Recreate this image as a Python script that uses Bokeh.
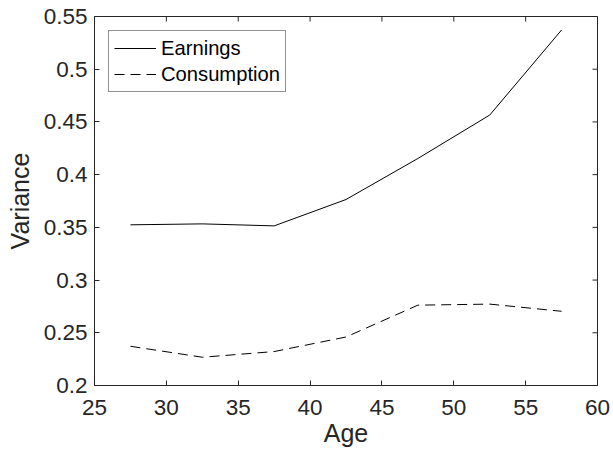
import math
from bokeh.plotting import figure
from bokeh.models import FixedTicker, Range1d, Legend, LegendItem
from bokeh.embed import file_html
from bokeh.resources import INLINE

# Data
age = [27.5, 32.5, 37.5, 42.5, 47.5, 52.5, 57.5]
earnings = [0.3524, 0.3533, 0.3514, 0.3764, 0.4153, 0.4565, 0.5372]
consumption = [0.2372, 0.2268, 0.2322, 0.2460, 0.2762, 0.2772, 0.2704]
x_ticks = [25, 30, 35, 40, 45, 50, 55, 60]
y_ticks = [0.2, 0.25, 0.3, 0.35, 0.4, 0.45, 0.5, 0.55]
y_tick_labels = ["0.2", "0.25", "0.3", "0.35", "0.4", "0.45", "0.5", "0.55"]
x_min, x_max = 25, 60
y_min, y_max = 0.2, 0.55

FONT = "Liberation Sans"
AX = "#262626"
TICK_FS = "22.5px"
LABEL_FS = "25px"

p = figure(width=613, height=452, output_backend="svg", toolbar_location=None,
           x_range=Range1d(x_min, x_max), y_range=Range1d(y_min, y_max),
           min_border_left=94, min_border_right=16, min_border_top=16, min_border_bottom=67,
           background_fill_color="white", border_fill_color="white")
p.outline_line_color = AX
p.outline_line_width = 1
p.xgrid.visible = False
p.ygrid.visible = False

def style_axis(ax):
    ax.axis_line_color = AX
    ax.axis_line_width = 1
    ax.major_tick_line_color = AX
    ax.major_tick_in = 5
    ax.major_tick_out = 0
    ax.minor_tick_line_color = None
    ax.major_label_text_color = AX
    ax.major_label_text_font = FONT
    ax.major_label_text_font_size = TICK_FS
    ax.axis_label_text_font = FONT
    ax.axis_label_text_font_size = LABEL_FS
    ax.axis_label_text_font_style = "normal"
    ax.axis_label_text_color = AX

xa = p.xaxis[0]
xa.ticker = FixedTicker(ticks=x_ticks)
xa.axis_label = "Age"
style_axis(xa)
xa.major_label_standoff = 14
xa.axis_label_standoff = 1

ya = p.yaxis[0]
ya.ticker = FixedTicker(ticks=y_ticks)
ya.major_label_overrides = {t: l for t, l in zip(y_ticks, y_tick_labels)}
ya.axis_label = "Variance"
style_axis(ya)
ya.major_label_standoff = 7
ya.axis_label_standoff = 7

# inward ticks on the top and right edges (box on), clipped to the frame
p.scatter(x_ticks, [y_max] * len(x_ticks), marker="dash", size=10, angle=math.pi / 2,
          line_color=AX, line_width=1)
p.scatter([x_max] * len(y_ticks), y_ticks, marker="dash", size=10,
          line_color=AX, line_width=1)

r1 = p.line(age, earnings, line_color="black", line_width=1)
r2 = p.line(age, consumption, line_color="black", line_width=1, line_dash="10 6")

legend = Legend(items=[LegendItem(label="Earnings", renderers=[r1]),
                       LegendItem(label="Consumption", renderers=[r2])],
                location="top_left", margin=14, padding=5, spacing=2,
                glyph_width=42, glyph_height=24, label_height=24, label_standoff=5,
                label_text_font=FONT, label_text_font_size="20.2px", label_text_color="black",
                border_line_color=AX, border_line_width=1,
                background_fill_color="white", background_fill_alpha=1)
p.add_layout(legend, "center")

open("out.html", "w").write(file_html(p, INLINE))
